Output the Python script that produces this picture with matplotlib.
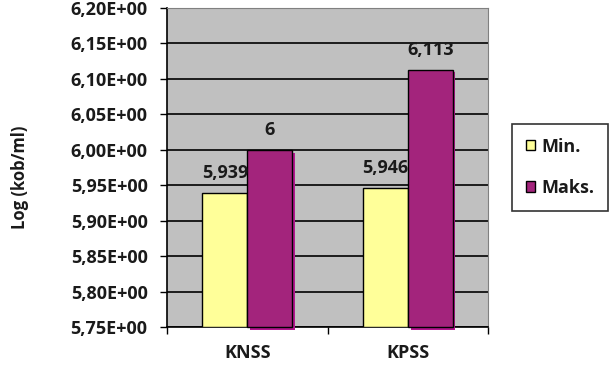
import numpy as np
import matplotlib.pyplot as plt
import matplotlib.patheffects as pe
from matplotlib.patches import Patch
from matplotlib.ticker import FuncFormatter

# Veriler
categories = ['KNSS', 'KPSS']
series_names = ['Min.', 'Maks.']
min_values = [5.939, 5.946]
max_values = [6.0, 6.113]

yellow = '#FFFF99'
purple = '#A3247C'
shadow = '#B3168F'
text_col = '#1A1A1A'
fs = 13

plt.rcParams['font.family'] = ['Open Sans', 'DejaVu Sans']

fig = plt.figure(figsize=(6.09, 3.72), dpi=100)
ax = fig.add_axes([167 / 609, 45 / 372, 321 / 609, 319 / 372])
ax.set_facecolor('#C0C0C0')

x = np.arange(len(categories))
w = 0.28

ax.set_ylim(5.75, 6.20)
ax.set_xlim(-0.5, 1.5)
ax.set_yticks(np.arange(5.75, 6.2001, 0.05))
ax.yaxis.grid(True, color='black', linewidth=1.2)
ax.set_axisbelow(True)

b1 = ax.bar(x - w / 2, np.array(min_values) - 5.75, w, bottom=5.75,
            color=yellow, edgecolor='black', linewidth=1.0, zorder=3)
b2 = ax.bar(x + w / 2, np.array(max_values) - 5.75, w, bottom=5.75,
            color=purple, edgecolor='black', linewidth=1.0, zorder=3,
            clip_on=False)
for bar in b2:
    bar.set_path_effects([pe.SimplePatchShadow(offset=(2, -2), shadow_rgbFace=shadow, alpha=1.0),
                          pe.Normal()])


def fmt_val(v):
    s = f'{v:.3f}'.rstrip('0').rstrip('.')
    return s.replace('.', ',')


for bars, vals in ((b1, min_values), (b2, max_values)):
    for bar, v in zip(bars, vals):
        ax.annotate(fmt_val(v), (bar.get_x() + bar.get_width() / 2, v),
                    xytext=(0, 14.5), textcoords='offset points',
                    ha='center', va='center', fontsize=fs, fontweight='bold',
                    color=text_col, zorder=5, annotation_clip=False)

ax.yaxis.set_major_formatter(FuncFormatter(lambda v, p: f'{v:.2f}'.replace('.', ',') + 'E+00'))
ax.set_xticks([-0.5, 0.5, 1.5])
ax.set_xticklabels([])
ax.set_xticks(x, minor=True)
ax.set_xticklabels(categories, minor=True)
ax.tick_params(axis='x', which='minor', length=0, pad=12)
ax.tick_params(axis='x', which='major', length=5, direction='out', width=1)
ax.tick_params(axis='y', length=5, direction='out', width=1, pad=9)
for lab in ax.get_yticklabels() + ax.get_xticklabels(minor=True):
    lab.set_fontweight('bold')
    lab.set_fontsize(fs)
    lab.set_color(text_col)

ax.spines['left'].set_color('black')
ax.spines['bottom'].set_color('black')
ax.spines['left'].set_linewidth(1.2)
ax.spines['bottom'].set_linewidth(1.2)
ax.spines['top'].set_color('#808080')
ax.spines['right'].set_color('#808080')

fig.text(20 / 609, 1 - 177 / 372, 'Log (kob/ml)', rotation=90, ha='center', va='center',
         fontsize=12, fontweight='bold', color=text_col)

handles = [Patch(facecolor=yellow, edgecolor='black'),
           Patch(facecolor=purple, edgecolor='black')]
leg = fig.legend(handles, series_names, loc='upper left', bbox_to_anchor=(512 / 609, 1 - 124 / 372),
                 frameon=True, fancybox=False, shadow=False, handlelength=0.5, handleheight=0.5,
                 handletextpad=0.4, labelspacing=1.3, borderpad=0.75, borderaxespad=0,
                 prop={'weight': 'bold', 'size': fs})
leg.get_frame().set_edgecolor('black')
leg.get_frame().set_linewidth(1.2)
for t in leg.get_texts():
    t.set_color(text_col)

fig.savefig('out.png', dpi=100)
